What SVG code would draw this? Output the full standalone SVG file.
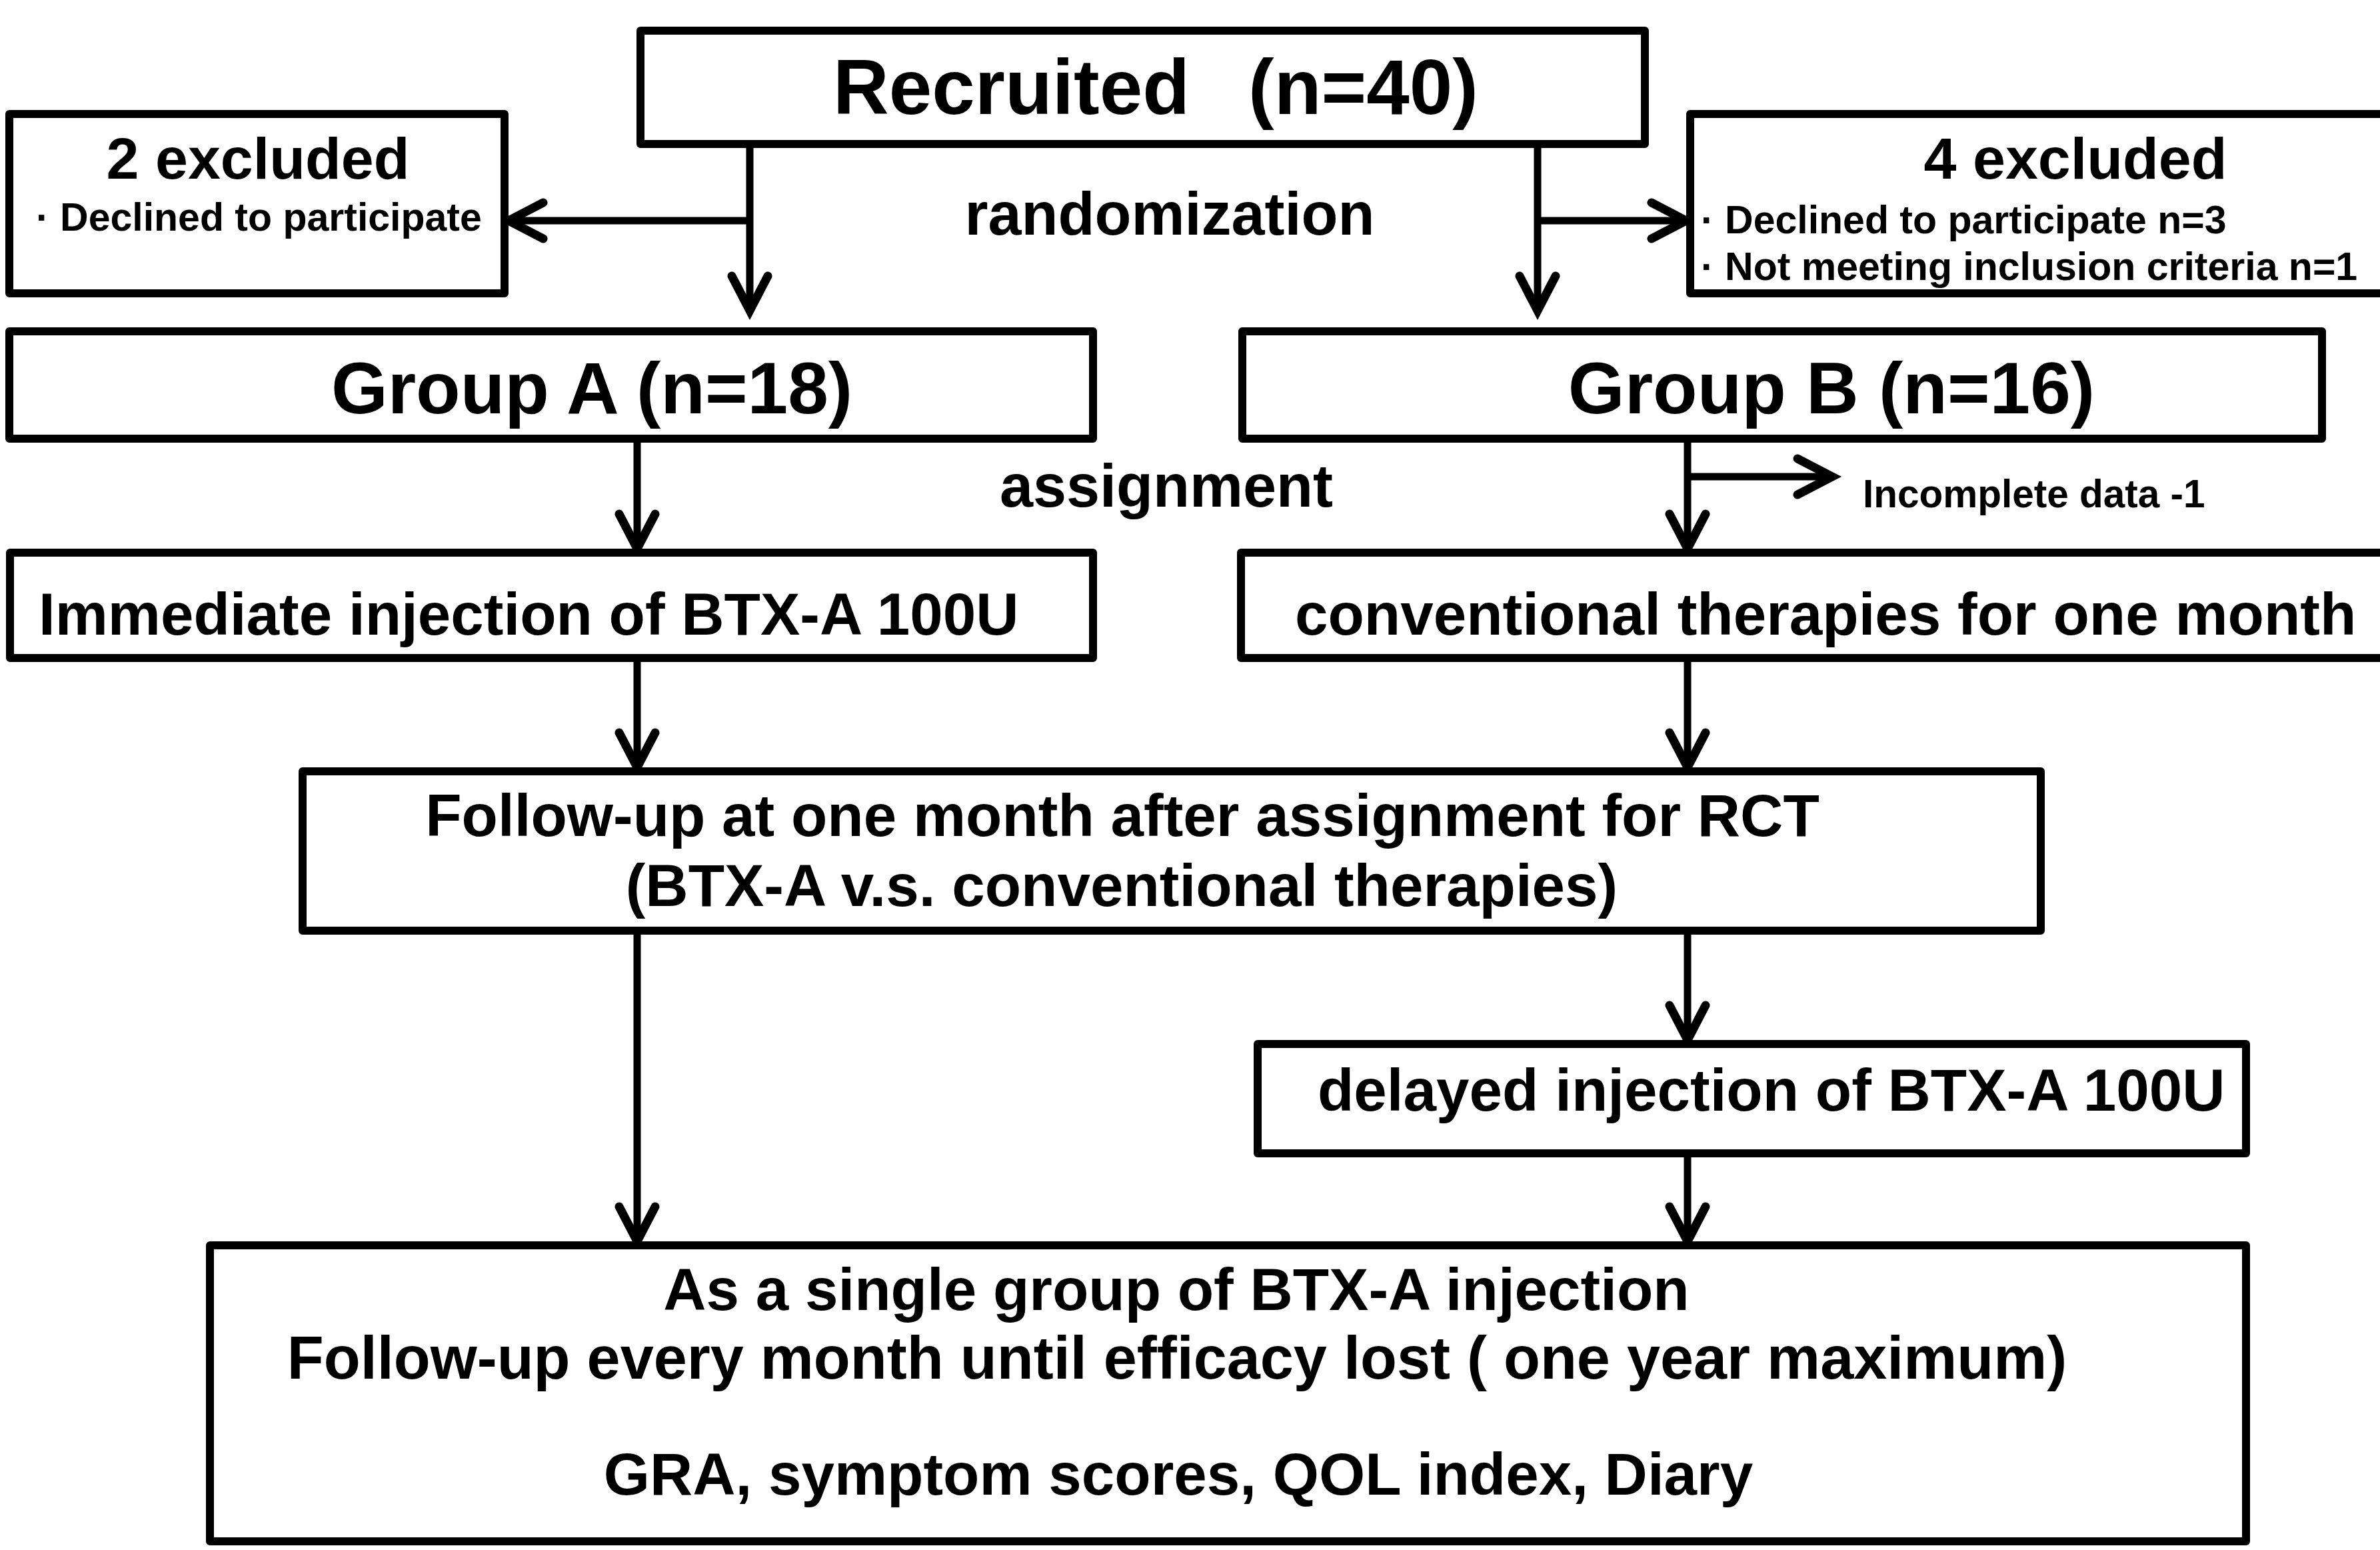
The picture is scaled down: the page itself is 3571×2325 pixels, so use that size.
<svg xmlns="http://www.w3.org/2000/svg" width="3571" height="2325" viewBox="0 0 3571 2325">
<style>
.box{fill:#fff;stroke:#000;stroke-width:12;stroke-linejoin:round}
.t{font-family:"Liberation Sans",Arial,sans-serif;font-weight:bold;fill:#000}
.c{fill:none;stroke:#000;stroke-width:11}
</style>
<defs>
<marker id="ah" markerUnits="userSpaceOnUse" orient="auto" overflow="visible" markerWidth="1" markerHeight="1" refX="0" refY="0">
<path d="M-52 -27 L0 0 L-52 27" fill="none" stroke="#000" stroke-width="13" stroke-linecap="round" stroke-linejoin="miter"/>
</marker>
</defs>
<rect width="3571" height="2325" fill="#fff"/>
<g id="connectors">
<path class="c" d="M1125 222 V466" marker-end="url(#ah)"/>
<path class="c" d="M1125 331 H763" marker-end="url(#ah)"/>
<path class="c" d="M2307 222 V466" marker-end="url(#ah)"/>
<path class="c" d="M2307 331 H2530" marker-end="url(#ah)"/>
<path class="c" d="M956 664 V823" marker-end="url(#ah)"/>
<path class="c" d="M956 993 V1151" marker-end="url(#ah)"/>
<path class="c" d="M956 1402 V1862" marker-end="url(#ah)"/>
<path class="c" d="M2532 664 V823" marker-end="url(#ah)"/>
<path class="c" d="M2532 715 H2749" marker-end="url(#ah)"/>
<path class="c" d="M2532 993 V1151" marker-end="url(#ah)"/>
<path class="c" d="M2532 1402 V1560" marker-end="url(#ah)"/>
<path class="c" d="M2532 1736 V1862" marker-end="url(#ah)"/>
</g>
<g id="recruited">
<rect class="box" x="961" y="46" width="1507" height="170"/>
<text class="t" font-size="116" y="171"><tspan x="1250">Recruited</tspan><tspan x="1873">(n=40)</tspan></text>
</g>
<g id="labels">
<text class="t" font-size="90" x="1755" y="352" text-anchor="middle">randomization</text>
<text class="t" font-size="90" x="1750" y="760" text-anchor="middle">assignment</text>
<text class="t" font-size="58.5" x="2795" y="761">Incomplete data -1</text>
</g>
<g id="excluded2">
<rect class="box" x="14" y="171" width="743" height="269"/>
<text class="t" font-size="88" x="387" y="268" text-anchor="middle">2 excluded</text>
<text class="t" font-size="59" x="54" y="346">· Declined to participate</text>
</g>
<g id="excluded4">
<rect class="box" x="2536" y="171" width="1100" height="269"/>
<text class="t" font-size="88" x="3114" y="268" text-anchor="middle">4 excluded</text>
<text class="t" font-size="59" x="2552" y="350">· Declined to participate n=3</text>
<text class="t" font-size="59" x="2552" y="420">· Not meeting inclusion criteria n=1</text>
</g>
<g id="groupA">
<rect class="box" x="14" y="497" width="1626" height="161"/>
<text class="t" font-size="109" x="888" y="620" text-anchor="middle">Group A (n=18)</text>
</g>
<g id="groupB">
<rect class="box" x="1864" y="497" width="1620" height="161"/>
<text class="t" font-size="109" x="2748" y="620" text-anchor="middle">Group B (n=16)</text>
</g>
<g id="immediate">
<rect class="box" x="15" y="829" width="1625" height="158"/>
<text class="t" font-size="89" x="58" y="952">Immediate injection of BTX-A 100U</text>
</g>
<g id="conventional">
<rect class="box" x="1862" y="829" width="1800" height="158"/>
<text class="t" font-size="89" x="1943" y="952">conventional therapies for one month</text>
</g>
<g id="followup">
<rect class="box" x="454" y="1157" width="2608" height="239"/>
<text class="t" font-size="89" x="1684" y="1254" text-anchor="middle">Follow-up at one month after assignment for RCT</text>
<text class="t" font-size="89" x="1683" y="1359" text-anchor="middle">(BTX-A v.s. conventional therapies)</text>
</g>
<g id="delayed">
<rect class="box" x="1887" y="1566" width="1483" height="164"/>
<text class="t" font-size="89" x="1977" y="1666">delayed injection of BTX-A 100U</text>
</g>
<g id="single">
<rect class="box" x="315" y="1868" width="3055" height="444"/>
<text class="t" font-size="89" x="1765" y="1965" text-anchor="middle">As a single group of BTX-A injection</text>
<text class="t" font-size="90" x="1766" y="2068" text-anchor="middle">Follow-up every month until efficacy lost ( one year maximum)</text>
<text class="t" font-size="89" x="1768" y="2242" text-anchor="middle">GRA, symptom scores, QOL index, Diary</text>
</g>
</svg>
